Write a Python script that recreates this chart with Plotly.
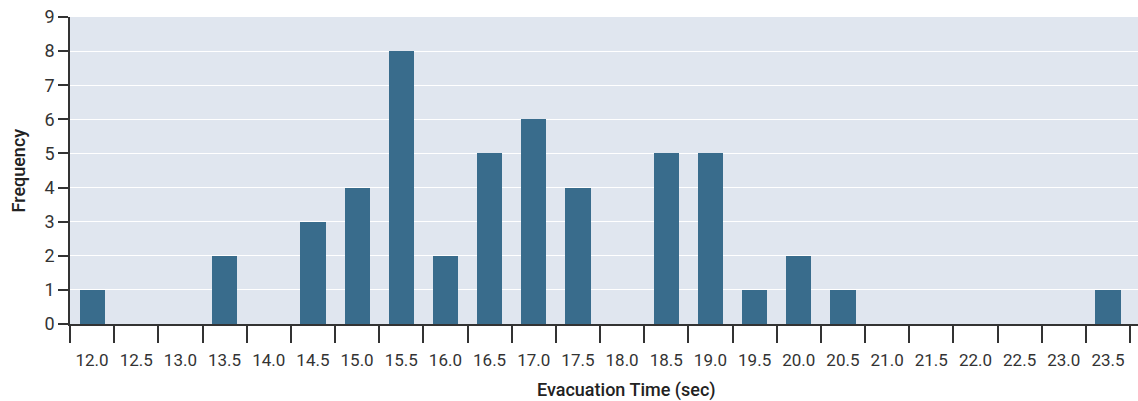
import plotly.graph_objects as go

categories = [12.0, 12.5, 13.0, 13.5, 14.0, 14.5, 15.0, 15.5, 16.0, 16.5, 17.0, 17.5,
              18.0, 18.5, 19.0, 19.5, 20.0, 20.5, 21.0, 21.5, 22.0, 22.5, 23.0, 23.5]
frequency = [1, 0, 0, 2, 0, 3, 4, 8, 2, 5, 6, 4,
             0, 5, 5, 1, 2, 1, 0, 0, 0, 0, 0, 1]
tick_labels = [f"{c:.1f}" for c in categories]
boundaries = [c - 0.25 for c in categories] + [categories[-1] + 0.25]
y_ticks = list(range(0, 10))

FONT = "Roboto, Liberation Sans Narrow, sans-serif"
BAR = "#396c8c"
BG = "#e0e6ef"
AX = "#333333"

fig = go.Figure()
fig.add_trace(go.Bar(x=categories, y=frequency, width=0.285, marker_color=BAR,
                     marker_line_width=0, showlegend=False, hoverinfo="x+y"))
# invisible trace so the overlay axis (tick marks at bin boundaries) is drawn
fig.add_trace(go.Scatter(x=boundaries, y=[0] * len(boundaries), xaxis="x2",
                         mode="markers", marker=dict(opacity=0), showlegend=False,
                         hoverinfo="skip"))

xr = [11.75, 23.84]
fig.update_layout(
    width=1138, height=401,
    margin=dict(l=70, r=0, t=17, b=77),
    paper_bgcolor="white", plot_bgcolor=BG,
    font=dict(family=FONT, color=AX),
    bargap=0,
    xaxis=dict(range=xr, tickmode="array", tickvals=categories, ticktext=tick_labels,
               ticks="outside", ticklen=20, tickcolor="rgba(0,0,0,0)",
               tickfont=dict(size=17, color="#333"), showgrid=False, zeroline=False,
               showline=True, linecolor=AX, linewidth=1.5, fixedrange=True,
               automargin=False),
    xaxis2=dict(range=xr, overlaying="x", anchor="y", side="bottom", tickmode="array",
                tickvals=boundaries, ticktext=[""] * len(boundaries),
                ticks="outside", ticklen=18, tickwidth=1.5, tickcolor=AX,
                showgrid=False, zeroline=False, showline=False, automargin=False),
    yaxis=dict(range=[0, 9], tickmode="array", tickvals=y_ticks,
               ticks="outside", ticklen=10, tickwidth=1.5, tickcolor=AX,
               tickfont=dict(size=18, color="#333"), showgrid=True, gridcolor="white",
               gridwidth=1, zeroline=False, showline=True, linecolor=AX, linewidth=1.5,
               automargin=False),
)
fig.add_annotation(text="Frequency", xref="paper", yref="paper", x=0, xshift=-52,
                   xanchor="center", yanchor="middle",
                   y=0.5, textangle=-90, showarrow=False,
                   font=dict(size=18, color="#222", family=FONT, weight=500))
fig.add_annotation(text="Evacuation Time (sec)", xref="paper", yref="paper",
                   x=(626 - 70) / 1068, y=0, yshift=-66, yanchor="middle",
                   showarrow=False, font=dict(size=18, color="#222", family=FONT, weight=500))

fig.write_html("out.html", config={"displayModeBar": False},
               post_script="document.body.style.margin='0';")
